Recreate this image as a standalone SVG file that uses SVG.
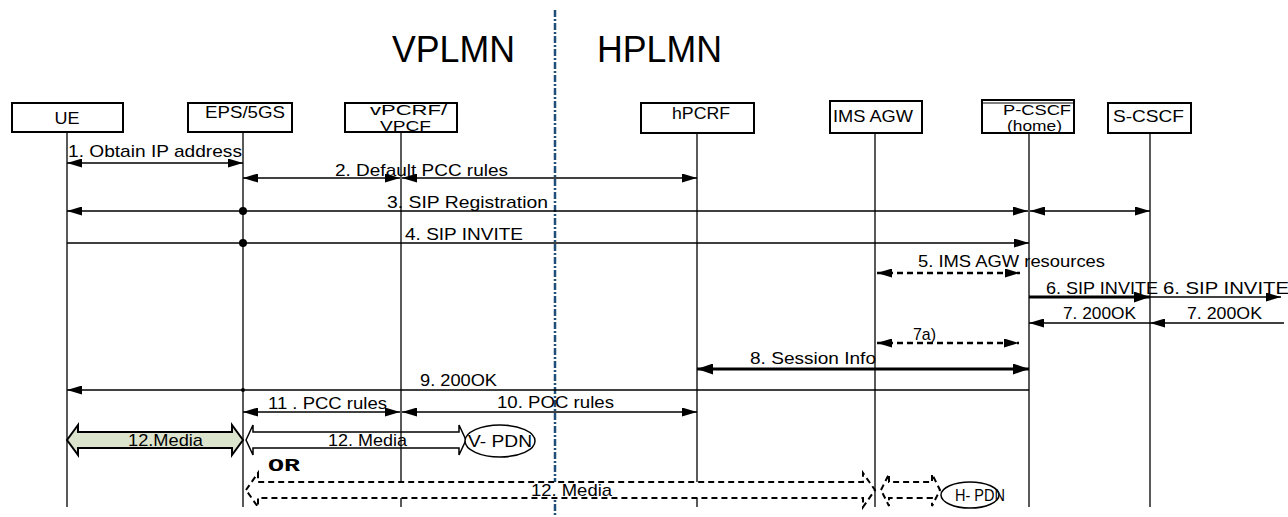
<svg xmlns="http://www.w3.org/2000/svg" width="1288" height="517" viewBox="0 0 1288 517">
<defs>
<style>
text{font-family:"Liberation Sans",Arial,sans-serif;fill:#000;}
.lbl{font-size:17px;}
.two{font-size:14px;}
.box{fill:#fff;stroke:#000;stroke-width:2;}
.life{stroke:#000;stroke-width:1.3;fill:none;}
.msg{stroke:#000;stroke-width:1.3;fill:none;}
.thick{stroke:#000;stroke-width:3;fill:none;}
.dash{stroke:#000;stroke-width:2.5;fill:none;stroke-dasharray:6 4;}
.hdr{font-size:37px;}
.or{font-family:"Liberation Mono","Courier New",monospace;font-weight:bold;font-size:19px;}
</style>
<marker id="ah" viewBox="0 0 15 9" refX="15" refY="4.5" markerWidth="15" markerHeight="9" markerUnits="userSpaceOnUse" orient="auto-start-reverse">
<path d="M0,0 L15,4.5 L0,9 z" fill="#000"/>
</marker>
<marker id="ahb" viewBox="0 0 16 11" refX="16" refY="5.5" markerWidth="16" markerHeight="11" markerUnits="userSpaceOnUse" orient="auto-start-reverse">
<path d="M0,0 L16,5.5 L0,11 z" fill="#000"/>
</marker>
</defs>
<rect width="1288" height="517" fill="#fff"/>

<g id="header">
<text class="hdr" x="392" y="62" textLength="123" lengthAdjust="spacingAndGlyphs">VPLMN</text>
<text class="hdr" x="597" y="62" textLength="125" lengthAdjust="spacingAndGlyphs">HPLMN</text>
</g>

<g id="lifelines">
<line class="life" x1="67" y1="133" x2="67" y2="507"/>
<line class="life" x1="243" y1="133" x2="243" y2="507"/>
<line class="life" x1="401" y1="133" x2="401" y2="507"/>
<line class="life" x1="697" y1="134" x2="697" y2="507"/>
<line class="life" x1="875" y1="134" x2="875" y2="507"/>
<line class="life" x1="1029" y1="134" x2="1029" y2="507"/>
<line class="life" x1="1150" y1="134" x2="1150" y2="507"/>
</g>

<g id="border">
<line x1="555" y1="10" x2="555" y2="517" stroke="#1f4e79" stroke-width="2.5" stroke-dasharray="7 2 2 2"/>
</g>

<g id="node-ue">
<rect class="box" x="12" y="103" width="111" height="29"/>
<text class="lbl" x="67" y="124" text-anchor="middle" textLength="25" lengthAdjust="spacingAndGlyphs">UE</text>
</g>
<g id="node-eps">
<rect class="box" x="188" y="103" width="104" height="29"/>
<text class="lbl" x="205" y="118" textLength="80" lengthAdjust="spacingAndGlyphs">EPS/5GS</text>
</g>
<g id="node-vpcrf">
<rect class="box" x="345" y="103" width="112" height="29"/>
<text class="two" x="370" y="115" textLength="77" lengthAdjust="spacingAndGlyphs">vPCRF/</text>
<text class="two" x="380" y="131" textLength="51" lengthAdjust="spacingAndGlyphs">VPCF</text>
</g>
<g id="node-hpcrf">
<rect class="box" x="641" y="103" width="113" height="30"/>
<text class="lbl" x="672" y="119" textLength="58" lengthAdjust="spacingAndGlyphs">hPCRF</text>
</g>
<g id="node-imsagw">
<rect class="box" x="830" y="101" width="92" height="32"/>
<text class="lbl" x="833" y="122" textLength="80" lengthAdjust="spacingAndGlyphs">IMS AGW</text>
</g>
<g id="node-pcscf">
<rect class="box" x="982" y="100" width="92" height="33"/>
<line x1="982" y1="103" x2="1074" y2="103" stroke="#000" stroke-width="1"/>
<text class="two" x="1003" y="115" textLength="68" lengthAdjust="spacingAndGlyphs">P-CSCF</text>
<text class="two" x="1007" y="131" textLength="55" lengthAdjust="spacingAndGlyphs">(home)</text>
</g>
<g id="node-scscf">
<rect class="box" x="1108" y="103" width="83" height="30"/>
<text class="lbl" x="1113" y="122" textLength="71" lengthAdjust="spacingAndGlyphs">S-CSCF</text>
</g>

<g id="connectors">
<line class="msg" x1="67" y1="163" x2="243" y2="163" marker-start="url(#ah)" marker-end="url(#ah)"/>
<line class="msg" x1="243" y1="178" x2="400" y2="178" marker-start="url(#ah)" marker-end="url(#ah)"/>
<line class="msg" x1="402" y1="178" x2="697" y2="178" marker-start="url(#ah)" marker-end="url(#ah)"/>
<line class="msg" x1="67" y1="211" x2="1028" y2="211" marker-start="url(#ah)" marker-end="url(#ah)"/>
<line class="msg" x1="1030" y1="211" x2="1150" y2="211" marker-start="url(#ah)" marker-end="url(#ah)"/>
<circle cx="243" cy="211" r="4" fill="#000"/>
<line class="msg" x1="67" y1="243" x2="1029" y2="243" marker-end="url(#ah)"/>
<circle cx="243" cy="243" r="4" fill="#000"/>
<line class="dash" x1="877" y1="273" x2="1020" y2="273" marker-start="url(#ah)" marker-end="url(#ah)"/>
<line class="thick" x1="1029" y1="297" x2="1150" y2="297" marker-end="url(#ahb)"/>
<line class="msg" x1="1150" y1="297" x2="1281" y2="297" marker-end="url(#ah)"/>
<line class="msg" x1="1150" y1="323" x2="1029" y2="323" marker-end="url(#ah)"/>
<line class="msg" x1="1284" y1="323" x2="1150" y2="323" marker-end="url(#ah)"/>
<line class="dash" x1="877" y1="343" x2="1019" y2="343" marker-start="url(#ah)" marker-end="url(#ah)"/>
<line class="thick" x1="697" y1="369" x2="1029" y2="369" marker-start="url(#ahb)" marker-end="url(#ahb)"/>
<line class="msg" x1="1029" y1="390" x2="67" y2="390" marker-end="url(#ah)"/>
<circle cx="243" cy="390" r="2" fill="#000"/>
<line class="msg" x1="243" y1="412" x2="400" y2="412" marker-start="url(#ah)" marker-end="url(#ah)"/>
<line class="msg" x1="402" y1="412" x2="697" y2="412" marker-start="url(#ah)" marker-end="url(#ah)"/>
<polygon points="67,440 78,425 78,432 232,432 232,425 243,440 232,455 232,448 78,448 78,455" fill="#dde4ce" stroke="#000" stroke-width="2"/>
<polygon points="246,440 253,425 253,432 459,432 459,425 466,440 459,455 459,448 253,448 253,455" fill="none" stroke="#000" stroke-width="1.5"/>
<polygon points="246,490 258,473 258,482 863,482 863,473 875,490 863,507 863,498 258,498 258,507" fill="#fff" stroke="#000" stroke-width="2" stroke-dasharray="6 4"/>
<polygon points="881,490 889,474 889,482 932,482 932,474 940,490 932,506 932,498 889,498 889,506" fill="#fff" stroke="#000" stroke-width="2" stroke-dasharray="6 4"/>
</g>

<g id="labels">
<text class="lbl" x="68" y="157" textLength="174" lengthAdjust="spacingAndGlyphs">1.  Obtain IP address</text>
<text class="lbl" x="335" y="176" textLength="173" lengthAdjust="spacingAndGlyphs">2.  Default PCC rules</text>
<text class="lbl" x="387" y="208" textLength="161" lengthAdjust="spacingAndGlyphs">3.  SIP Registration</text>
<text class="lbl" x="405" y="240" textLength="118" lengthAdjust="spacingAndGlyphs">4.  SIP INVITE</text>
<text class="lbl" x="918" y="267" textLength="187" lengthAdjust="spacingAndGlyphs">5. IMS AGW resources</text>
<text class="lbl" x="1046" y="294" textLength="112" lengthAdjust="spacingAndGlyphs">6. SIP INVITE</text>
<text class="lbl" x="1163" y="294" textLength="126" lengthAdjust="spacingAndGlyphs">6.  SIP INVITE</text>
<text class="lbl" x="1063" y="319" textLength="73" lengthAdjust="spacingAndGlyphs">7.  200OK</text>
<text class="lbl" x="1187" y="319" textLength="75" lengthAdjust="spacingAndGlyphs">7.  200OK</text>
<text class="lbl" x="913" y="340" textLength="23" lengthAdjust="spacingAndGlyphs">7a)</text>
<text class="lbl" x="750" y="364" textLength="126" lengthAdjust="spacingAndGlyphs">8.  Session Info</text>
<text class="lbl" x="420" y="386" textLength="77" lengthAdjust="spacingAndGlyphs">9.  200OK</text>
<text class="lbl" x="268" y="409" textLength="119" lengthAdjust="spacingAndGlyphs">11 .  PCC rules</text>
<text class="lbl" x="497" y="408" textLength="117" lengthAdjust="spacingAndGlyphs">10.  POC rules</text>
<text class="lbl" x="128" y="446" textLength="75" lengthAdjust="spacingAndGlyphs">12.Media</text>
<text class="lbl" x="328" y="446" textLength="79" lengthAdjust="spacingAndGlyphs">12. Media</text>
<text class="or" x="268" y="471" textLength="32" lengthAdjust="spacingAndGlyphs">OR</text>
<text class="lbl" x="531" y="496" textLength="81" lengthAdjust="spacingAndGlyphs">12. Media</text>
</g>

<g id="node-vpdn">
<ellipse cx="500" cy="441" rx="35" ry="16" fill="#fff" stroke="#000" stroke-width="1.5"/>
<text class="lbl" x="468" y="447" textLength="64" lengthAdjust="spacingAndGlyphs">V- PDN</text>
</g>
<g id="node-hpdn">
<ellipse cx="970" cy="495" rx="29" ry="13" fill="#fff" stroke="#000" stroke-width="1.5"/>
<text class="lbl" x="955" y="501" textLength="50" lengthAdjust="spacingAndGlyphs">H- PDN</text>
</g>
</svg>
